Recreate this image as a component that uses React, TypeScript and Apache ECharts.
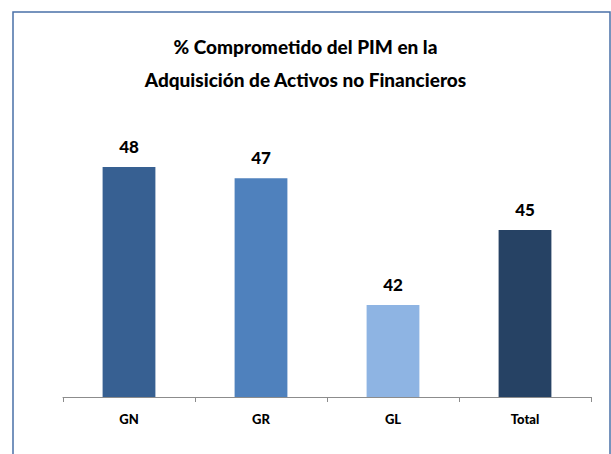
import React, { useEffect, useRef } from "react";
import * as echarts from "echarts";

const categories = ["GN", "GR", "GL", "Total"];
const values = [47.75, 47.28, 41.9, 45.08];
const barColors = ["#376092", "#4f81bd", "#8eb4e3", "#264264"];
const titleLines = ["% Comprometido del PIM en la", "Adquisición de Activos no Financieros"];

export default function App() {
  const ref = useRef<HTMLDivElement>(null);
  useEffect(() => {
    const chart = echarts.init(ref.current!, null, { renderer: "svg" });
    chart.setOption({
      animation: false,
      backgroundColor: "#ffffff",
      title: {
        text: titleLines.join("\n"),
        left: "center",
        top: 25,
        textStyle: {
          fontFamily: "Lato",
          fontWeight: 900,
          fontSize: 19,
          lineHeight: 33,
          color: "#000000",
        },
      },
      graphic: [
        {
          type: "rect",
          shape: { x: 13, y: 12, width: 597, height: 460 },
          style: { fill: "none", stroke: "#4a70a8", lineWidth: 1.5 },
          z: 10,
        },
      ],
      grid: { left: 63, right: 20, top: 114, bottom: 57 },
      xAxis: {
        type: "category",
        data: categories,
        axisLine: { lineStyle: { color: "#8c8c8c", width: 1 } },
        axisTick: { show: true, length: 5, lineStyle: { color: "#8c8c8c" } },
        axisLabel: {
          margin: 15,
          fontFamily: "Lato",
          fontWeight: 900,
          fontSize: 13,
          color: "#000000",
        },
      },
      yAxis: {
        type: "value",
        min: 38,
        max: 50,
        show: false,
        splitLine: { show: false },
      },
      series: [
        {
          type: "bar",
          barWidth: "40%",
          data: values.map((v, i) => ({ value: v, itemStyle: { color: barColors[i] } })),
          label: {
            show: true,
            position: "top",
            distance: 12,
            fontFamily: "Lato",
            fontWeight: 900,
            fontSize: 17,
            color: "#000000",
            formatter: (p: any) => Math.round(p.value).toString(),
          },
        },
      ],
    });
    return () => chart.dispose();
  }, []);
  return (
    <div
      ref={ref}
      style={{ position: "absolute", left: 0, top: 0, width: 611, height: 454 }}
    />
  );
}
